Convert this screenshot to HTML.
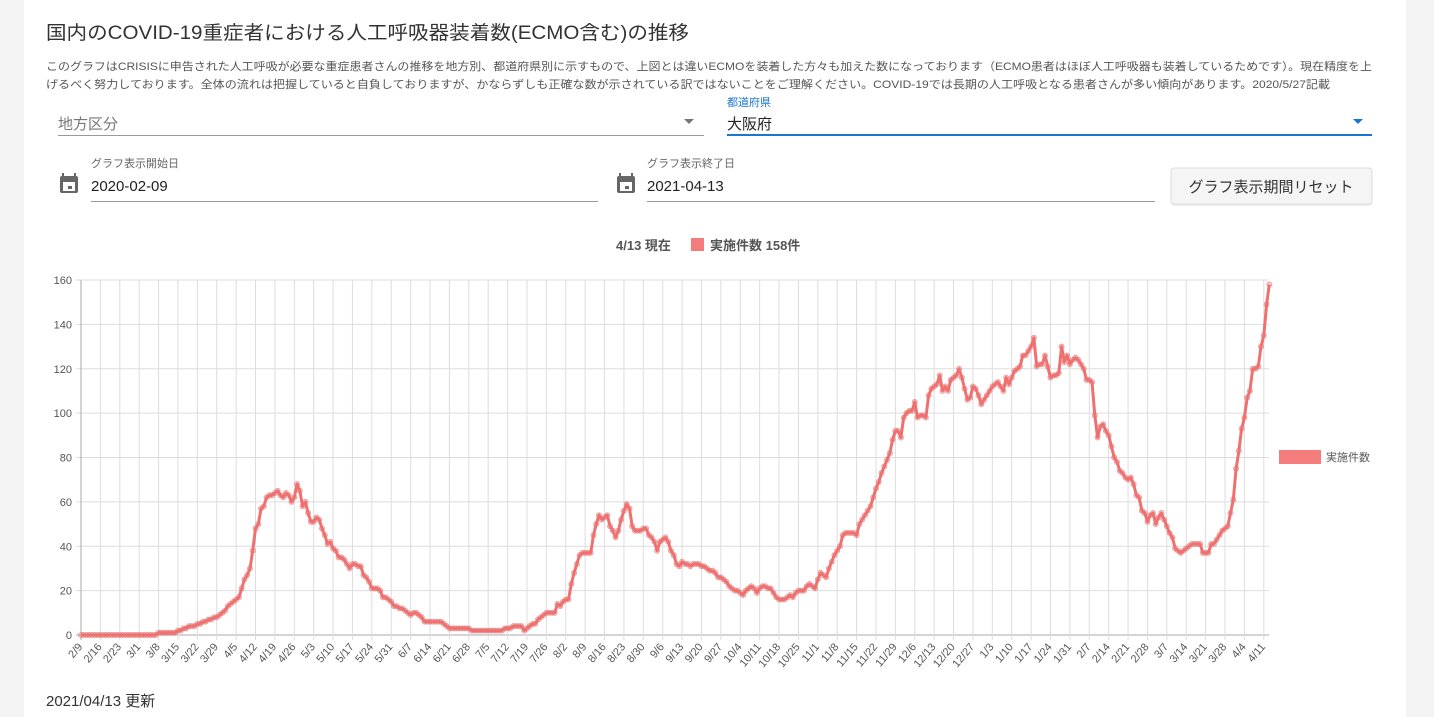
<!DOCTYPE html>
<html><head><meta charset="utf-8"><style>
html,body{margin:0;padding:0;background:#f4f4f4;}
svg{display:block;font-family:"Liberation Sans","Noto Sans CJK JP",sans-serif;}
</style></head><body>
<svg id="s" width="1434" height="717" xmlns="http://www.w3.org/2000/svg">
<rect x="0" y="0" width="1434" height="717" fill="#f4f4f4"/>
<rect x="24" y="0" width="1382" height="717" fill="#fff"/>
<text x="46" y="39" font-size="19" fill="#333" textLength="643" lengthAdjust="spacingAndGlyphs">国内のCOVID-19重症者における人工呼吸器装着数(ECMO含む)の推移</text>
<text x="46" y="70" font-size="11" fill="#555" textLength="1326" lengthAdjust="spacingAndGlyphs">このグラフはCRISISに申告された人工呼吸が必要な重症患者さんの推移を地方別、都道府県別に示すもので、上図とは違いECMOを装着した方々も加えた数になっております（ECMO患者はほぼ人工呼吸器も装着しているためです）。現在精度を上</text>
<text x="46" y="88" font-size="11" fill="#555" textLength="1284" lengthAdjust="spacingAndGlyphs">げるべく努力しております。全体の流れは把握していると自負しておりますが、かならずしも正確な数が示されている訳ではないことをご理解ください。COVID-19では長期の人工呼吸となる患者さんが多い傾向があります。2020/5/27記載</text>
<text x="58" y="129" font-size="15" fill="#777">地方区分</text>
<path d="M684 119h10l-5 5z" fill="#777"/>
<rect x="58" y="135" width="646" height="1" fill="#999"/>
<text x="727" y="106" font-size="11" fill="#1976d2">都道府県</text>
<text x="727" y="129" font-size="15" fill="#222">大阪府</text>
<path d="M1353 119h10l-5 5z" fill="#1976d2"/>
<rect x="727" y="134" width="645" height="2" fill="#1976d2"/>
<g fill="#666"><rect x="60" y="176" width="18" height="17" rx="2"/><rect x="63" y="182" width="12" height="9" fill="#fff"/><rect x="68" y="186" width="4" height="3"/><rect x="62" y="173" width="2" height="4"/><rect x="74" y="173" width="2" height="4"/></g>
<text x="91" y="167" font-size="11" fill="#666">グラフ表示開始日</text>
<text x="91" y="191" font-size="15" fill="#222">2020-02-09</text>
<rect x="91" y="201" width="507" height="1" fill="#999"/>
<g fill="#666"><rect x="617" y="176" width="18" height="17" rx="2"/><rect x="620" y="182" width="12" height="9" fill="#fff"/><rect x="625" y="186" width="4" height="3"/><rect x="619" y="173" width="2" height="4"/><rect x="631" y="173" width="2" height="4"/></g>
<text x="647" y="167" font-size="11" fill="#666">グラフ表示終了日</text>
<text x="647" y="191" font-size="15" fill="#222">2021-04-13</text>
<rect x="647" y="201" width="508" height="1" fill="#999"/>
<rect x="1171" y="170" width="201" height="36" rx="3" fill="#e0e0e0" opacity="0.6"/>
<rect x="1171" y="168" width="201" height="36" rx="3" fill="#f5f5f5" stroke="#ddd"/>
<text x="1271" y="192" font-size="15" fill="#333" text-anchor="middle">グラフ表示期間リセット</text>
<text x="616" y="250" font-size="13" font-weight="bold" fill="#555">4/13 現在</text>
<rect x="691" y="238" width="13" height="13" fill="#f47c7c"/>
<text x="710" y="250" font-size="13" font-weight="bold" fill="#555">実施件数 158件</text>
<rect x="1279" y="450" width="42" height="14" fill="#f47c7c"/>
<text x="1326" y="461" font-size="11" fill="#555">実施件数</text>
<text x="46" y="706" font-size="15" fill="#333">2021/04/13 更新</text>
<g id="chart"></g>
</svg>
<script>
const X0=81,DX=2.77,Y0=635,DY=(635-280)/160;
const ns="http://www.w3.org/2000/svg";
const g=document.getElementById('chart');
function el(t,a,txt){const e=document.createElementNS(ns,t);for(const k in a)e.setAttribute(k,a[k]);if(txt!=null)e.textContent=txt;g.appendChild(e);return e;}
const base=Date.UTC(2020,1,9);
function di(s){const[m,d]=s.split('/').map(Number);let y=m>=2&&!(s.startsWith('2/')&&false)?2020:2021;return 0;}
// key points with year
const kp=`2020/2/9 0;2020/3/7 0;2020/3/8 1;2020/3/14 1;2020/3/15 2;2020/3/20 4;2020/3/25 6;2020/3/29 8;2020/4/1 11;2020/4/3 14;2020/4/5 16;2020/4/6 17;2020/4/7 21;2020/4/8 25;2020/4/9 27;2020/4/10 30;2020/4/11 38;2020/4/12 48;2020/4/13 50;2020/4/14 57;2020/4/15 58;2020/4/16 62;2020/4/18 63;2020/4/20 65;2020/4/21 63;2020/4/22 62;2020/4/23 64;2020/4/24 63;2020/4/25 60;2020/4/26 62;2020/4/27 68;2020/4/28 65;2020/4/29 58;2020/4/30 60;2020/5/1 55;2020/5/2 51;2020/5/3 51;2020/5/4 53;2020/5/5 52;2020/5/6 48;2020/5/7 45;2020/5/8 41;2020/5/9 42;2020/5/10 39;2020/5/11 38;2020/5/12 35;2020/5/14 34;2020/5/16 30;2020/5/17 32;2020/5/20 31;2020/5/21 27;2020/5/23 24;2020/5/24 21;2020/5/26 21;2020/5/27 20;2020/5/28 17;2020/5/30 16;2020/6/1 13;2020/6/3 12;2020/6/5 11;2020/6/7 9;2020/6/9 10;2020/6/11 8;2020/6/12 6;2020/6/17 6;2020/6/19 5;2020/6/21 3;2020/6/27 3;2020/6/29 2;2020/7/10 2;2020/7/12 3;2020/7/13 3;2020/7/15 4;2020/7/17 4;2020/7/18 2;2020/7/20 4;2020/7/22 5;2020/7/24 8;2020/7/26 10;2020/7/29 10;2020/7/30 14;2020/7/31 13;2020/8/1 15;2020/8/3 16;2020/8/4 23;2020/8/5 28;2020/8/6 32;2020/8/7 36;2020/8/8 37;2020/8/11 37;2020/8/12 45;2020/8/13 50;2020/8/14 54;2020/8/15 52;2020/8/17 54;2020/8/18 49;2020/8/19 47;2020/8/20 44;2020/8/21 47;2020/8/22 52;2020/8/23 56;2020/8/24 59;2020/8/25 57;2020/8/26 49;2020/8/27 47;2020/8/29 47;2020/8/31 48;2020/9/1 45;2020/9/3 42;2020/9/4 38;2020/9/5 42;2020/9/7 44;2020/9/8 42;2020/9/9 38;2020/9/10 36;2020/9/11 32;2020/9/12 31;2020/9/13 33;2020/9/16 31;2020/9/18 32;2020/9/20 31;2020/9/22 30;2020/9/25 28;2020/9/26 26;2020/9/28 25;2020/10/1 21;2020/10/2 20;2020/10/4 19;2020/10/5 18;2020/10/7 21;2020/10/8 22;2020/10/10 19;2020/10/12 22;2020/10/15 21;2020/10/17 17;2020/10/18 16;2020/10/20 16;2020/10/22 18;2020/10/23 17;2020/10/25 20;2020/10/27 20;2020/10/29 23;2020/10/31 21;2020/11/2 28;2020/11/4 26;2020/11/6 33;2020/11/7 36;2020/11/9 40;2020/11/10 45;2020/11/12 46;2020/11/14 46;2020/11/15 45;2020/11/16 50;2020/11/18 54;2020/11/20 58;2020/11/21 62;2020/11/23 69;2020/11/24 73;2020/11/26 79;2020/11/27 82;2020/11/28 88;2020/11/29 92;2020/11/30 92;2020/12/1 89;2020/12/2 98;2020/12/3 100;2020/12/5 101;2020/12/6 105;2020/12/7 98;2020/12/9 99;2020/12/10 98;2020/12/11 108;2020/12/12 111;2020/12/14 113;2020/12/15 117;2020/12/16 110;2020/12/17 112;2020/12/18 110;2020/12/19 115;2020/12/21 117;2020/12/22 120;2020/12/23 116;2020/12/25 106;2020/12/26 107;2020/12/27 112;2020/12/28 111;2020/12/29 108;2020/12/30 104;2021/1/1 108;2021/1/3 112;2021/1/5 114;2021/1/7 110;2021/1/8 116;2021/1/9 113;2021/1/11 119;2021/1/13 121;2021/1/14 126;2021/1/15 126;2021/1/17 130;2021/1/18 134;2021/1/19 121;2021/1/21 122;2021/1/22 126;2021/1/23 121;2021/1/24 116;2021/1/26 117;2021/1/27 118;2021/1/28 130;2021/1/29 123;2021/1/30 126;2021/1/31 122;2021/2/2 125;2021/2/3 124;2021/2/5 120;2021/2/6 115;2021/2/8 114;2021/2/9 99;2021/2/10 89;2021/2/11 94;2021/2/12 95;2021/2/13 92;2021/2/14 90;2021/2/15 85;2021/2/16 80;2021/2/17 78;2021/2/18 74;2021/2/20 71;2021/2/21 70;2021/2/22 71;2021/2/23 68;2021/2/24 63;2021/2/25 62;2021/2/26 56;2021/2/27 55;2021/2/28 51;2021/3/1 54;2021/3/2 55;2021/3/3 50;2021/3/4 53;2021/3/5 55;2021/3/6 52;2021/3/7 49;2021/3/8 46;2021/3/9 44;2021/3/10 39;2021/3/11 38;2021/3/12 37;2021/3/13 38;2021/3/15 40;2021/3/16 41;2021/3/19 41;2021/3/20 37;2021/3/22 37;2021/3/23 41;2021/3/24 41;2021/3/26 45;2021/3/28 48;2021/3/29 49;2021/3/30 55;2021/3/31 61;2021/4/1 75;2021/4/2 83;2021/4/3 93;2021/4/4 98;2021/4/5 107;2021/4/6 110;2021/4/7 120;2021/4/8 120;2021/4/9 121;2021/4/10 130;2021/4/11 135;2021/4/12 149;2021/4/13 158`.split(';').map(s=>{const[d,v]=s.split(' ');const[y,m,dd]=d.split('/').map(Number);return[(Date.UTC(y,m-1,dd)-base)/864e5,+v];});
const N=429;const vals=[];
for(let i=0;i<=N;i++){let k=0;while(k<kp.length-1&&kp[k+1][0]<i)k++;const a=kp[k],b=kp[Math.min(k+1,kp.length-1)];let v=a[1];if(b[0]>a[0])v=a[1]+(b[1]-a[1])*(i-a[0])/(b[0]-a[0]);if(i>=b[0])v=b[1];vals.push(Math.round(v));}
// grid
for(let v=0;v<=160;v+=20){const y=Y0-v*DY;el('line',{x1:X0-5,x2:1269,y1:y,y2:y,stroke:v==0?'#aaa':'#ddd','stroke-width':1});el('text',{x:X0-9,y:y+4,'font-size':11,fill:'#555','text-anchor':'end'},v);}
for(let i=0;i<=N;i+=7){const x=X0+i*DX;el('line',{x1:x,x2:x,y1:280,y2:Y0+5,stroke:i==0?'#aaa':'#ddd','stroke-width':1});const dt=new Date(base+i*864e5);const lb=(dt.getUTCMonth()+1)+'/'+dt.getUTCDate();el('text',{x:x+2,y:Y0+12,'font-size':11,fill:'#555','text-anchor':'end',transform:`rotate(-50 ${x+2} ${Y0+12})`},lb);}
let d='';vals.forEach((v,i)=>{d+=(i?'L':'M')+(X0+i*DX).toFixed(1)+' '+(Y0-v*DY).toFixed(1);});
vals.forEach((v,i)=>el('circle',{cx:X0+i*DX,cy:Y0-v*DY,r:2.5,fill:'rgba(244,124,124,0.3)',stroke:'rgba(220,110,110,0.6)','stroke-width':1}));
el('path',{d:d,fill:'none',stroke:'#f07070','stroke-width':3,'stroke-linejoin':'round'});
</script>
</body></html>
